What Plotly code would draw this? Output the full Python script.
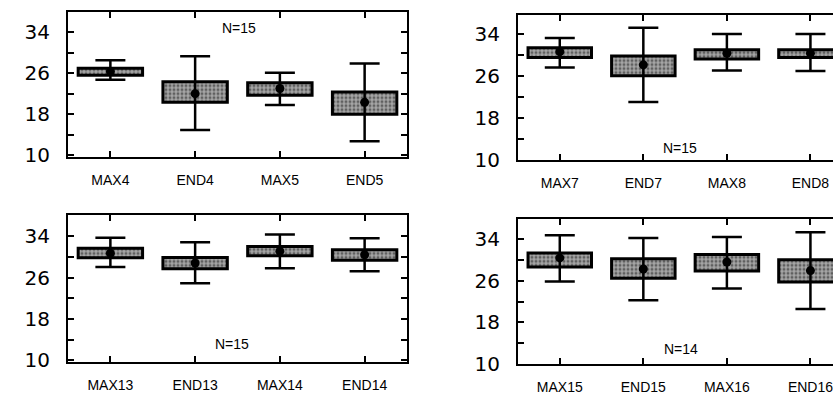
import plotly.graph_objects as go

# ---------------- data ----------------
cats_a = ["MAX4", "END4", "MAX5", "END5"]
q1_a = [25.6, 20.3, 21.7, 18.0]
q3_a = [26.95, 24.3, 24.1, 22.3]
lo_a = [24.7, 14.9, 19.8, 12.7]
hi_a = [28.5, 29.3, 26.1, 27.9]
mean_a = [26.3, 22.0, 23.0, 20.3]
n_a = "N=15"

cats_b = ["MAX7", "END7", "MAX8", "END8"]
q1_b = [29.5, 26.0, 29.2, 29.5]
q3_b = [31.35, 29.8, 31.0, 31.0]
lo_b = [27.6, 21.0, 27.0, 26.9]
hi_b = [33.2, 35.2, 34.0, 34.0]
mean_b = [30.6, 28.1, 30.3, 30.3]
n_b = "N=15"

cats_c = ["MAX13", "END13", "MAX14", "END14"]
q1_c = [29.8, 27.7, 30.2, 29.35]
q3_c = [31.66, 29.85, 32.0, 31.35]
lo_c = [28.05, 24.9, 27.8, 27.2]
hi_c = [33.7, 32.8, 34.3, 33.6]
mean_c = [30.7, 28.8, 31.1, 30.4]
n_c = "N=15"

cats_d = ["MAX15", "END15", "MAX16", "END16"]
q1_d = [28.7, 26.5, 27.9, 25.8]
q3_d = [31.4, 30.3, 31.1, 30.1]
lo_d = [25.9, 22.3, 24.55, 20.6]
hi_d = [34.8, 34.3, 34.5, 35.4]
mean_d = [30.45, 28.3, 29.65, 28.0]
n_d = "N=14"

y_tickvals = [10, 14, 18, 22, 26, 30, 34]
y_ticktext = ["10", "", "18", "", "26", "", "34"]

panels = [
    (cats_a, q1_a, q3_a, lo_a, hi_a, mean_a, n_a),
    (cats_b, q1_b, q3_b, lo_b, hi_b, mean_b, n_b),
    (cats_c, q1_c, q3_c, lo_c, hi_c, mean_c, n_c),
    (cats_d, q1_d, q3_d, lo_d, hi_d, mean_d, n_d),
]

# ---------------- layout ----------------
W, H = 833, 404
# pixel boxes: (left, right, top, bottom)
boxes = [(68, 407, 12, 162), (518, 833, 15, 165), (68, 407, 222, 373), (518, 833, 226, 375)]
yranges = [[9.6, 38.0], [9.9, 37.7], [9.7, 38.0], [10.0, 37.9]]
xranges = [[-0.5, 3.5], [-0.5, 3.27], [-0.5, 3.5], [-0.5, 3.27]]
n_pos = [(1.52, 34.9), (1.44, 12.3), (1.43, 13.2), (1.45, 12.9)]

FONT = "Liberation Sans, Arial, sans-serif"
YFONT = "DejaVu Sans, sans-serif"
fig = go.Figure()
layout = dict(
    width=W, height=H, margin=dict(l=0, r=0, t=0, b=0),
    paper_bgcolor="white", plot_bgcolor="white", showlegend=False,
    font=dict(family=FONT, color="black"),
)
annotations = []
for i, (cats, q1, q3, lo, hi, mean, ntxt) in enumerate(panels):
    k = "" if i == 0 else str(i + 1)
    xa, ya = "x" + k, "y" + k
    fig.add_trace(go.Bar(
        x=cats, base=q1, y=[b - a for a, b in zip(q1, q3)],
        width=0.76, xaxis=xa, yaxis=ya,
        marker=dict(
            color="#8c8c8c",
            line=dict(color="black", width=3),
            pattern=dict(shape=".", fgcolor="#1a1a1a", bgcolor="#a6a6a6", size=4, solidity=0.45),
        ),
    ))
    fig.add_trace(go.Scatter(
        x=cats, y=mean, mode="markers", xaxis=xa, yaxis=ya,
        marker=dict(color="black", size=9),
        error_y=dict(type="data", symmetric=False,
                     array=[h - m for h, m in zip(hi, mean)],
                     arrayminus=[m - l for m, l in zip(mean, lo)],
                     color="black", thickness=2.5, width=15),
    ))
    l, r, t, b = boxes[i]
    right_panel = i in (1, 3)
    layout["xaxis" + k] = dict(
        domain=[l / W, r / W], anchor=ya, type="category",
        categoryorder="array", categoryarray=cats, range=xranges[i],
        showline=True, linecolor="black", linewidth=2,
        mirror="ticks", ticks="inside", ticklen=6, tickwidth=2, tickcolor="black",
        showgrid=False, zeroline=False,
        tickfont=dict(size=14, family=FONT), ticklabelstandoff=9,
    )
    layout["yaxis" + k] = dict(
        domain=[1 - b / H, 1 - t / H], anchor=xa, range=yranges[i],
        tickvals=y_tickvals, ticktext=y_ticktext,
        showline=True, linecolor="black", linewidth=2,
        mirror=False if right_panel else "ticks",
        ticks="inside", ticklen=6, tickwidth=2, tickcolor="black",
        showgrid=False, zeroline=False,
        tickfont=dict(size=20, family=YFONT), ticklabelstandoff=12,
    )
    annotations.append(dict(
        x=n_pos[i][0], y=n_pos[i][1], xref=xa, yref=ya, text=ntxt,
        showarrow=False, font=dict(size=14, family=FONT, color="black"),
    ))
layout["annotations"] = annotations
fig.update_layout(**layout)
fig.write_html(
    "out.html",
    config={"displayModeBar": False},
    post_script="document.body.style.margin='0';document.body.style.overflow='hidden';",
)
